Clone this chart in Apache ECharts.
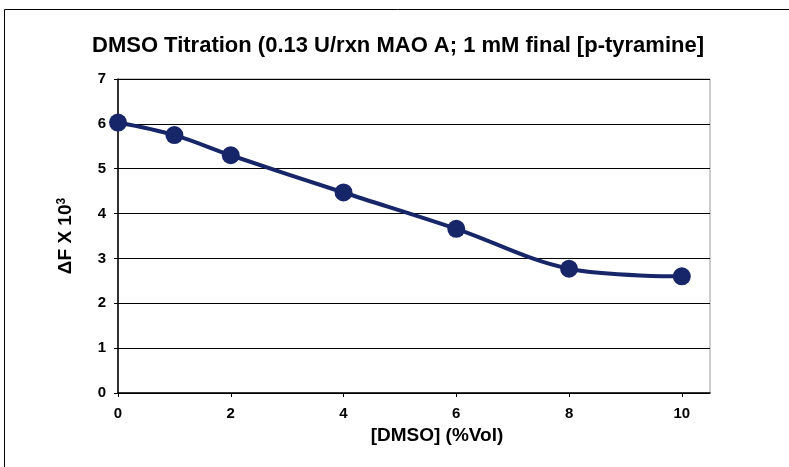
<!DOCTYPE html>
<html>
<head>
<meta charset="utf-8">
<title>DMSO Titration</title>
<script src="https://cdn.jsdelivr.net/npm/echarts@6/dist/echarts.min.js"></script>
<style>
  html, body { margin: 0; padding: 0; background: #fff; }
  #main { width: 789px; height: 467px; }
</style>
</head>
<body>
<div id="main"></div>
<script>
// data
var dmso = [0, 1, 2, 4, 6, 8, 10];
var deltaF = [6.03, 5.75, 5.3, 4.47, 3.66, 2.77, 2.6];
var titleText = 'DMSO Titration (0.13 U/rxn MAO A; 1 mM final [p-tyramine]';
var xName = '[DMSO] (%Vol)';
var yName = '\u0394F X 10{sup|3}';

var points = [];
for (var i = 0; i < dmso.length; i++) {
  points.push([dmso[i], deltaF[i]]);
}

var chart = echarts.init(document.getElementById('main'));
var labelFont = { color: '#000', fontFamily: 'Liberation Sans, Arial', fontWeight: 'bold' };

chart.setOption({
  animation: false,
  title: {
    text: titleText,
    left: 393,
    top: 30,
    textAlign: 'center',
    textStyle: { color: '#000', fontFamily: 'Liberation Sans, Arial', fontWeight: 'bold', fontSize: 22 }
  },
  graphic: [{
    type: 'rect',
    shape: { x: 4.5, y: 9.5, width: 800, height: 480 },
    style: { fill: 'none', stroke: '#000', lineWidth: 1 },
    silent: true
  }],
  grid: {
    left: 118, top: 79, right: 79, bottom: 74,
    show: true, borderColor: '#999', borderWidth: 1, backgroundColor: '#fff'
  },
  xAxis: {
    type: 'value',
    min: 0, max: 10.5, interval: 2,
    name: xName,
    nameLocation: 'middle',
    nameGap: 33,
    nameTextStyle: Object.assign({ fontSize: 19, padding: [0, 0, 0, 46] }, labelFont),
    axisLine: { lineStyle: { color: '#000', width: 1.5 } },
    axisTick: { show: true, length: 4, lineStyle: { color: '#000' } },
    axisLabel: Object.assign({ fontSize: 15, margin: 13, showMaxLabel: false }, labelFont),
    splitLine: { show: false }
  },
  yAxis: {
    type: 'value',
    min: 0, max: 7, interval: 1,
    name: yName,
    nameLocation: 'middle',
    nameGap: 42,
    nameTextStyle: Object.assign({
      fontSize: 19,
      rich: {
        sup: { fontSize: 12, fontWeight: 'bold', fontFamily: 'Liberation Sans, Arial', color: '#000', verticalAlign: 'top', padding: [0, 0, 8, 0] }
      }
    }, labelFont),
    axisLine: { show: true, lineStyle: { color: '#000', width: 1.5 } },
    axisTick: { show: true, length: 4, lineStyle: { color: '#000' } },
    axisLabel: Object.assign({ fontSize: 15, margin: 12 }, labelFont),
    splitLine: { show: true, lineStyle: { color: '#000', width: 1 } }
  },
  series: [{
    type: 'line',
    data: points,
    smooth: 0.35,
    symbol: 'circle',
    symbolSize: 18,
    itemStyle: { color: '#172669' },
    lineStyle: { color: '#172669', width: 4 },
    z: 5
  }]
});
</script>
</body>
</html>
